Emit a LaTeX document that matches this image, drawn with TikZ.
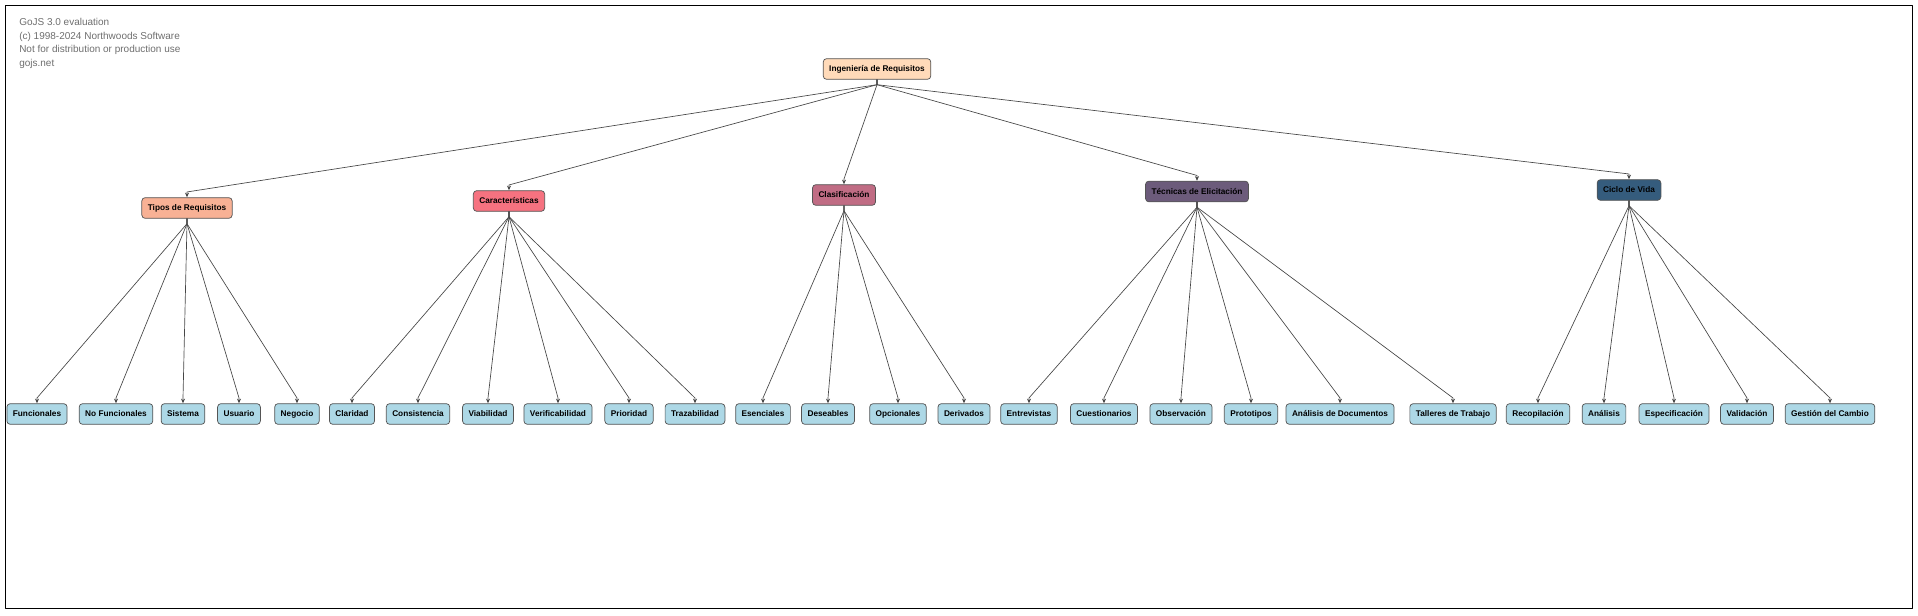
\documentclass[tikz,border=0pt]{standalone}
\usepackage{fontspec}
\setmainfont{Liberation Sans}
\usetikzlibrary{arrows.meta}
\definecolor{raiz}{HTML}{FFDAB9}
\definecolor{tipo}{HTML}{F8B195}
\definecolor{carac}{HTML}{F67280}
\definecolor{clasif}{HTML}{C06C84}
\definecolor{tecn}{HTML}{6C5B7B}
\definecolor{ciclo}{HTML}{355C7D}
\definecolor{azul}{HTML}{ADD8E6}
\definecolor{borde}{RGB}{85,85,85}
\definecolor{linea}{RGB}{70,70,70}
\definecolor{marca}{RGB}{110,110,110}
\begin{document}
\begin{tikzpicture}[line cap=round,line join=round,x=0.75pt,y=-0.75pt,
	caja/.style={draw=borde,line width=0.55pt,rounded corners=2.5pt,font=\fontsize{6.2}{7}\selectfont\bfseries,inner xsep=4.5pt,inner ysep=0pt,minimum height=15.5pt},
	hoja/.style={caja,fill=azul},
	aviso/.style={anchor=base west,inner sep=0pt,text=marca,font=\fontsize{7.5}{9}\selectfont},
	enlace/.style={-{Stealth[length=3.5pt,width=3pt]},color=linea,line width=0.5pt}]
	\useasboundingbox (0,0) rectangle (1918,616);
	\draw[line width=0.7pt] (5,5) rectangle (1912,608);
	%Marca de agua
	\node[aviso] (m1) at (19,25.7) {GoJS 3.0 evaluation};
	\node[aviso] (m2) at (19,39.2) {(c) 1998-2024 Northwoods Software};
	\node[aviso] (m3) at (19,52.7) {Not for distribution or production use};
	\node[aviso] (m4) at (19,66.2) {gojs.net};
	%Nodos principales
	\node[caja,fill=raiz] (ing) at (877,69) {Ingeniería de Requisitos};
	\node[caja,fill=tipo] (tipos) at (187,208) {Tipos de Requisitos};
	\node[caja,fill=carac] (carac) at (509,201) {Características};
	\node[caja,fill=clasif] (clasif) at (844,195) {Clasificación};
	\node[caja,fill=tecn] (tecn) at (1197,191.5) {Técnicas de Elicitación};
	\node[caja,fill=ciclo] (ciclo) at (1629,190) {Ciclo de Vida};
	%Hojas
	\foreach \x/\n/\t in {37/fun/Funcionales,116/nofun/No Funcionales,183/sis/Sistema,239/usu/Usuario,297/neg/Negocio,
		352/cla/Claridad,418/cons/Consistencia,488/via/Viabilidad,558/ver/Verificabilidad,629/pri/Prioridad,695/tra/Trazabilidad,
		763/ese/Esenciales,828/des/Deseables,898/opc/Opcionales,964/der/Derivados,
		1029/ent/Entrevistas,1104/cue/Cuestionarios,1181/obs/Observación,1251/pro/Prototipos,1340/doc/Análisis de Documentos,1453/tal/Talleres de Trabajo,
		1538/rec/Recopilación,1604/ana/Análisis,1674/esp/Especificación,1747/val/Validación,1830/ges/Gestión del Cambio}
	\node[hoja] (\n) at (\x,414) {\t};
	%Enlaces
	\foreach \n in {tipos,carac,clasif,tecn,ciclo}
	\draw[enlace] (ing.south) -- ++(0,5) -- ([yshift=4pt]\n.north) -- (\n.north);
	\foreach \p/\lista in {tipos/{fun,nofun,sis,usu,neg},carac/{cla,cons,via,ver,pri,tra},clasif/{ese,des,opc,der},
		tecn/{ent,cue,obs,pro,doc,tal},ciclo/{rec,ana,esp,val,ges}}
	\foreach \n in \lista
	\draw[enlace] (\p.south) -- ++(0,5) -- ([yshift=4pt]\n.north) -- (\n.north);
\end{tikzpicture}
\end{document}
